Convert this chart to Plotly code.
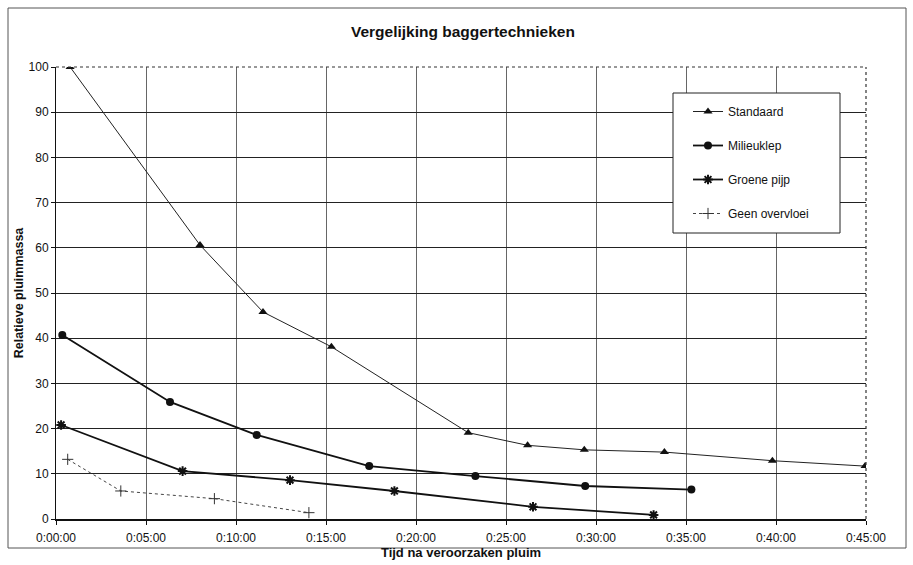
import plotly.graph_objects as go
import pandas as pd

# ---- data (times as H:MM:SS after causing the plume, values relative plume mass) ----
std_t = ["0:00:47", "0:08:00", "0:11:30", "0:15:18", "0:22:54", "0:26:12", "0:29:21", "0:33:48", "0:39:48", "0:44:57"]
std_v = [100, 60.6, 45.8, 38.1, 19.1, 16.3, 15.3, 14.8, 12.9, 11.7]

mil_t = ["0:00:21", "0:06:20", "0:11:09", "0:17:24", "0:23:18", "0:29:24", "0:35:18"]
mil_v = [40.7, 25.9, 18.6, 11.7, 9.5, 7.3, 6.5]

gro_t = ["0:00:17", "0:07:02", "0:13:00", "0:18:48", "0:26:30", "0:33:12"]
gro_v = [20.8, 10.6, 8.6, 6.2, 2.7, 0.9]

geen_t = ["0:00:39", "0:03:36", "0:08:48", "0:14:03"]
geen_v = [13.2, 6.2, 4.5, 1.4]

x_ticks = ["0:00:00", "0:05:00", "0:10:00", "0:15:00", "0:20:00", "0:25:00", "0:30:00", "0:35:00", "0:40:00", "0:45:00"]
y_ticks = [0, 10, 20, 30, 40, 50, 60, 70, 80, 90, 100]

FONT = "Liberation Sans, Arial, sans-serif"


def to_dt(ts):
    return [pd.Timestamp("1970-01-01") + pd.to_timedelta(t) for t in ts]


fig = go.Figure()
series = [
    ("Standaard", std_t, std_v, dict(symbol="triangle-up", size=8, color="#111"), dict(color="#222", width=1)),
    ("Milieuklep", mil_t, mil_v, dict(symbol="circle", size=8, color="#111"), dict(color="#111", width=1.8)),
    ("Groene pijp", gro_t, gro_v, dict(symbol="asterisk-open", size=8, color="#111", line=dict(color="#111", width=2)), dict(color="#111", width=1.8)),
    ("Geen overvloei", geen_t, geen_v, dict(symbol="cross-thin-open", size=8, color="#333", line=dict(color="#333", width=1)), dict(color="#444", width=1, dash="dot")),
]
for i, (name, t, v, mk, ln) in enumerate(series):
    fig.add_trace(go.Scatter(
        x=to_dt(t), y=v, name=name, mode="lines+markers",
        marker=mk, line=ln, legendgroup=f"g{i}",
    ))

tickvals = to_dt(x_ticks)
x0 = tickvals[0]
x1 = tickvals[-1]

fig.update_layout(
    width=913, height=565,
    margin=dict(l=56, r=47, t=67, b=46),
    paper_bgcolor="white", plot_bgcolor="white",
    font=dict(family=FONT, size=12, color="#111"),
    title=dict(text="<b>Vergelijking baggertechnieken</b>", x=0.507, xanchor="center",
               y=1 - 32 / 565, yanchor="middle", font=dict(size=15.5, family=FONT, color="#111")),
    showlegend=True,
    legend=dict(x=(688 - 56) / 810, y=(519 - 97) / 452, xanchor="left", yanchor="top",
                borderwidth=0, bgcolor="rgba(0,0,0,0)",
                traceorder="grouped", tracegroupgap=15,
                font=dict(size=12, family=FONT, color="#111"),
                itemwidth=30),
    xaxis=dict(
        type="date", range=[x0, x1], tickvals=tickvals, ticktext=x_ticks,
        showgrid=True, gridcolor="#666", gridwidth=1,
        showline=True, linecolor="#111", linewidth=1.5,
        ticks="outside", ticklen=4, tickcolor="#111", ticklabelstandoff=3,
        title=dict(text="<b>Tijd na veroorzaken pluim</b>", standoff=4, font=dict(size=13, family=FONT)),
        zeroline=False, automargin=False,
    ),
    yaxis=dict(
        range=[0, 100], tickvals=y_ticks,
        showgrid=True, gridcolor="#222", gridwidth=1,
        showline=True, linecolor="#111", linewidth=1,
        ticks="outside", ticklen=4, tickcolor="#111",
        title=dict(text="<b>Relatieve pluimmassa</b>", standoff=2, font=dict(size=12.5, family=FONT)),
        zeroline=False, automargin=False,
    ),
)

# dotted top and right border of plot area
fig.add_shape(type="line", xref="paper", yref="paper", x0=0, x1=1, y0=1, y1=1,
              line=dict(color="#333", width=1.2, dash="dot"))
fig.add_shape(type="line", xref="paper", yref="paper", x0=1, x1=1, y0=0, y1=1,
              line=dict(color="#333", width=1.2, dash="dot"))
# legend box
fig.add_shape(type="rect", xref="paper", yref="paper",
              x0=(673 - 56) / 810, x1=(840 - 56) / 810, y0=(519 - 233) / 452, y1=(519 - 93) / 452,
              line=dict(color="#222", width=1), fillcolor="white", layer="above")
# outer chart frame
fig.add_shape(type="rect", xref="paper", yref="paper",
              x0=(8 - 56) / 810, x1=(906 - 56) / 810, y0=(519 - 548) / 452, y1=(519 - 8) / 452,
              line=dict(color="#555", width=1), layer="below")

fig.write_html("out.html")
